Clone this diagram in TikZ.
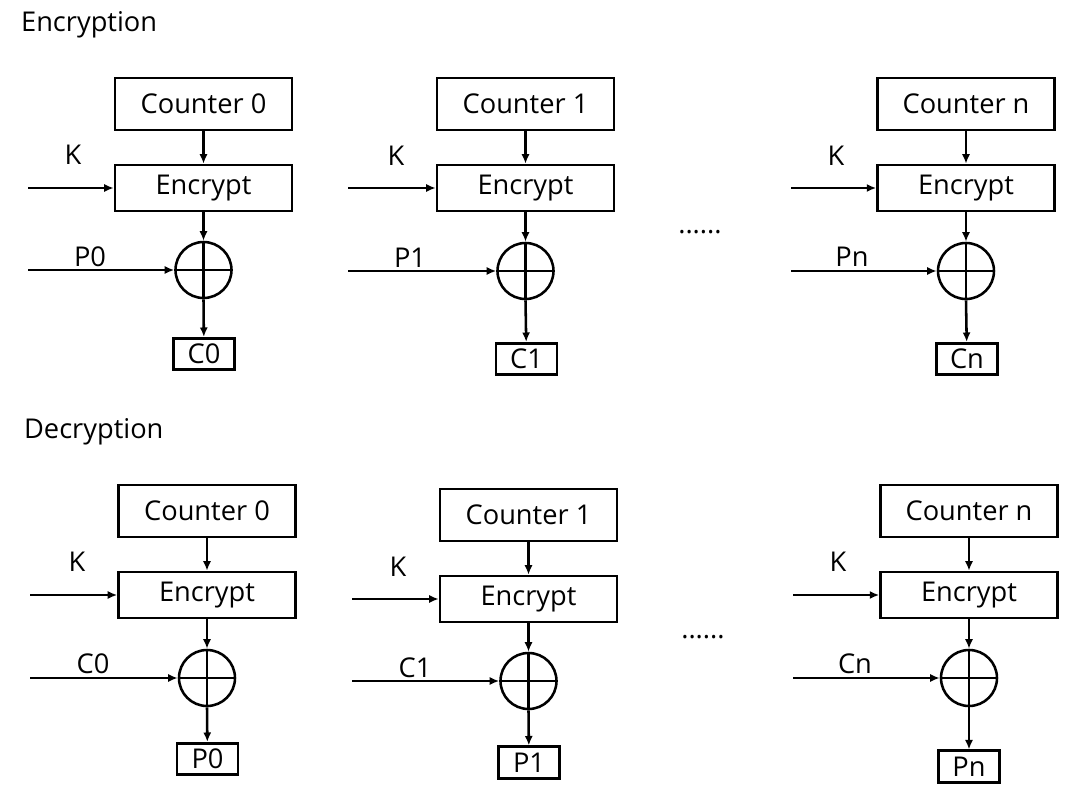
\documentclass[tikz,border=0pt]{standalone}
\usepackage{fontspec}
\setmainfont{Open Sans}
\usetikzlibrary{positioning,arrows.meta}

\begin{document}
\begin{tikzpicture}[x=0.02cm,y=-0.02cm,line width=1.45pt,
	blk/.style={draw,minimum width=3.54cm,minimum height=1.04cm,inner sep=0pt,font=\fontsize{15.5}{18}\selectfont},
	encbox/.style={blk,minimum height=0.92cm},
	xorc/.style={draw,circle,minimum size=1.12cm,inner sep=0pt},
	outbox/.style={draw,minimum width=1.22cm,minimum height=0.63cm,inner sep=0pt,font=\fontsize{15.5}{18}\selectfont},
	lbl/.style={font=\fontsize{15.5}{18}\selectfont},
	arr/.style={-{Latex[length=1.9mm,width=1.6mm]}}]
	\useasboundingbox (0,0) rectangle (1080,808);

	\node[lbl,anchor=west] (enctitle) at (14,25) {Encryption};
	\node[lbl,anchor=west] (dectitle) at (17,432) {Decryption};

	% encryption, block 0
	\begin{scope}
	\node[blk] (cnt0) at (203.5,104) {Counter 0};
	\node[encbox] (enc0) at (203.5,188) {Encrypt};
	\node[xorc] (xor0) at (203.5,270) {};
	\node[outbox] (out0) at (204,354) {C0};
	\coordinate (k0) at (28,188);
	\coordinate (p0) at (28,270);
	\node[lbl] (kl0) at (73,155) {K};
	\node[lbl] (pl0) at (90,257) {P0};
	\draw[arr] (cnt0) -- (enc0);
	\draw[arr] (k0) -- (enc0.west);
	\draw[arr] (enc0) -- (xor0.north);
	\draw[arr] (p0) -- (xor0.west);
	\draw (xor0.north) -- (xor0.south) (xor0.west) -- (xor0.east);
	\draw[arr] (xor0.south) -- (out0);
	\end{scope}

	% encryption, block 1
	\begin{scope}
	\node[blk] (cnt1) at (525.5,104) {Counter 1};
	\node[encbox] (enc1) at (525.5,188) {Encrypt};
	\node[xorc] (xor1) at (525.5,271) {};
	\node[outbox] (out1) at (526.5,359) {C1};
	\coordinate (k1) at (348,188);
	\coordinate (p1) at (348,271);
	\node[lbl] (kl1) at (396,156) {K};
	\node[lbl] (pl1) at (410,258) {P1};
	\draw[arr] (cnt1) -- (enc1);
	\draw[arr] (k1) -- (enc1.west);
	\draw[arr] (enc1) -- (xor1.north);
	\draw[arr] (p1) -- (xor1.west);
	\draw (xor1.north) -- (xor1.south) (xor1.west) -- (xor1.east);
	\draw[arr] (xor1.south) -- (out1);
	\end{scope}

	\node[lbl] (edots) at (700,232) {......};

	% encryption, block n
	\begin{scope}
	\node[blk] (cntn) at (966,104) {Counter n};
	\node[encbox] (encn) at (966,188) {Encrypt};
	\node[xorc] (xorn) at (966,271) {};
	\node[outbox] (outn) at (967,359) {Cn};
	\coordinate (kn) at (791,188);
	\coordinate (pn) at (791,271);
	\node[lbl] (kln) at (836,156) {K};
	\node[lbl] (pln) at (852,257) {Pn};
	\draw[arr] (cntn) -- (encn);
	\draw[arr] (kn) -- (encn.west);
	\draw[arr] (encn) -- (xorn.north);
	\draw[arr] (pn) -- (xorn.west);
	\draw (xorn.north) -- (xorn.south) (xorn.west) -- (xorn.east);
	\draw[arr] (xorn.south) -- (outn);
	\end{scope}

	% decryption, block 0
	\begin{scope}
	\node[blk] (dcnt0) at (207,511) {Counter 0};
	\node[encbox] (denc0) at (207,595) {Encrypt};
	\node[xorc] (dxor0) at (207,678) {};
	\node[outbox] (dout0) at (207.5,759) {P0};
	\coordinate (dk0) at (30,595);
	\coordinate (dc0) at (30,678);
	\node[lbl] (dkl0) at (77,562) {K};
	\node[lbl] (dcl0) at (93,664) {C0};
	\draw[arr] (dcnt0) -- (denc0);
	\draw[arr] (dk0) -- (denc0.west);
	\draw[arr] (denc0) -- (dxor0.north);
	\draw[arr] (dc0) -- (dxor0.west);
	\draw (dxor0.north) -- (dxor0.south) (dxor0.west) -- (dxor0.east);
	\draw[arr] (dxor0.south) -- (dout0);
	\end{scope}

	% decryption, block 1
	\begin{scope}
	\node[blk] (dcnt1) at (528.5,515) {Counter 1};
	\node[encbox] (denc1) at (528.5,599) {Encrypt};
	\node[xorc] (dxor1) at (528.5,681) {};
	\node[outbox] (dout1) at (529,762.5) {P1};
	\coordinate (dk1) at (352,599);
	\coordinate (dc1) at (352,681);
	\node[lbl] (dkl1) at (398,567) {K};
	\node[lbl] (dcl1) at (415,668) {C1};
	\draw[arr] (dcnt1) -- (denc1);
	\draw[arr] (dk1) -- (denc1.west);
	\draw[arr] (denc1) -- (dxor1.north);
	\draw[arr] (dc1) -- (dxor1.west);
	\draw (dxor1.north) -- (dxor1.south) (dxor1.west) -- (dxor1.east);
	\draw[arr] (dxor1.south) -- (dout1);
	\end{scope}

	\node[lbl] (ddots) at (703,637) {......};

	% decryption, block n
	\begin{scope}
	\node[blk] (dcntn) at (969,511) {Counter n};
	\node[encbox] (dencn) at (969,595) {Encrypt};
	\node[xorc] (dxorn) at (969,678) {};
	\node[outbox] (doutn) at (969,766.5) {Pn};
	\coordinate (dkn) at (793,595);
	\coordinate (dcn) at (793,678);
	\node[lbl] (dkln) at (838,562) {K};
	\node[lbl] (dcln) at (855,664) {Cn};
	\draw[arr] (dcntn) -- (dencn);
	\draw[arr] (dkn) -- (dencn.west);
	\draw[arr] (dencn) -- (dxorn.north);
	\draw[arr] (dcn) -- (dxorn.west);
	\draw (dxorn.north) -- (dxorn.south) (dxorn.west) -- (dxorn.east);
	\draw[arr] (dxorn.south) -- (doutn);
	\end{scope}
\end{tikzpicture}
\end{document}
